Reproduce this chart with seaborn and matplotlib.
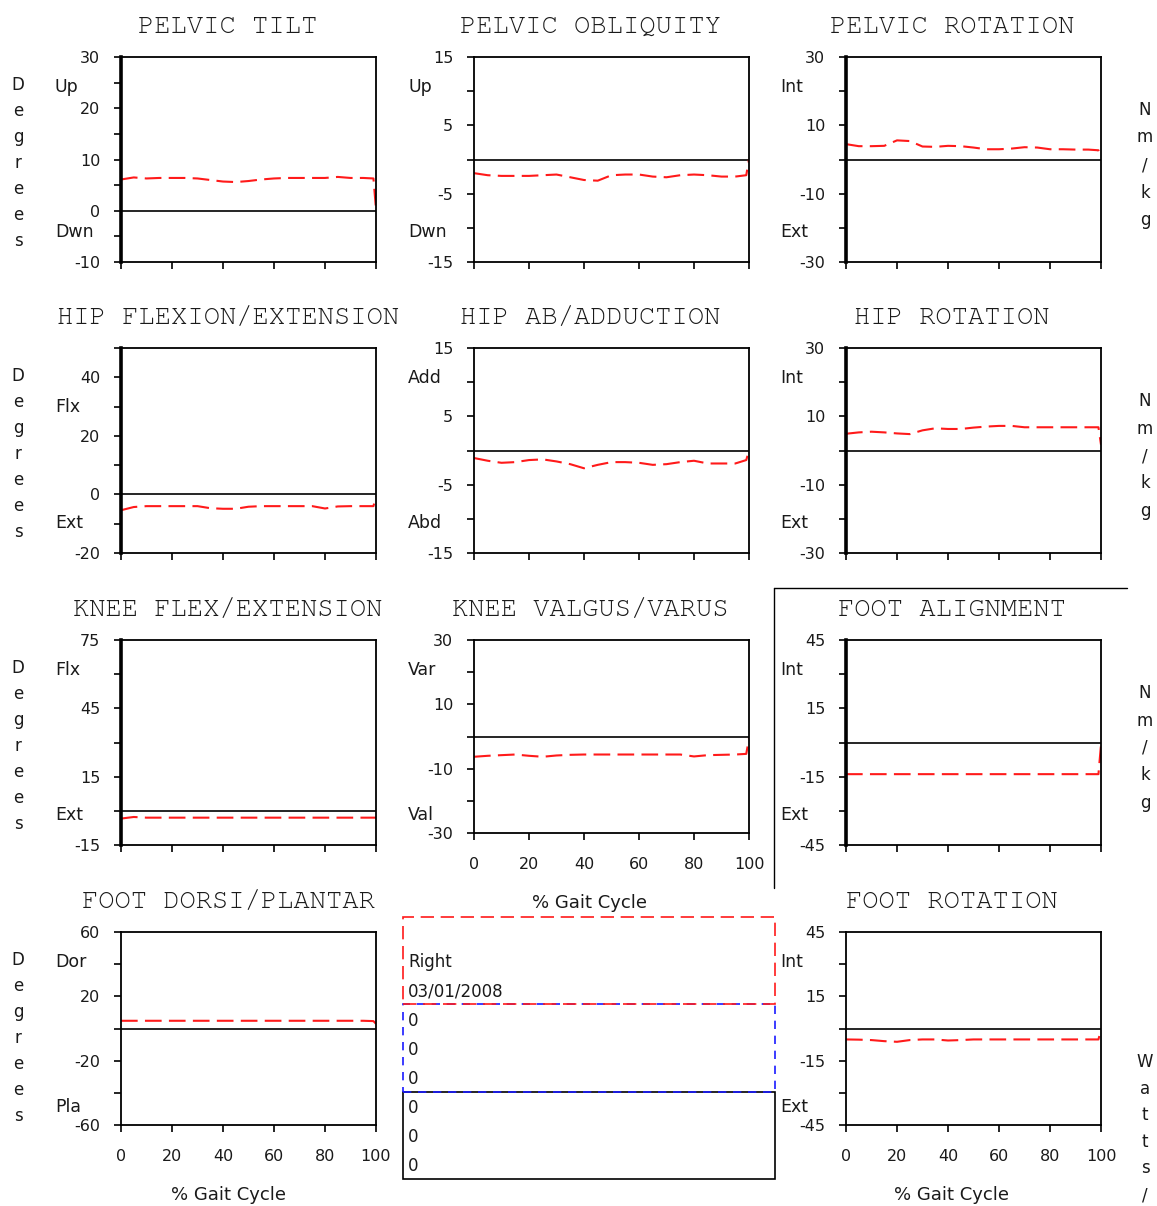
import matplotlib
matplotlib.use("Agg")
import matplotlib.pyplot as plt
from matplotlib import font_manager
import numpy as np
import pandas as pd
import seaborn as sns
from matplotlib.lines import Line2D
from matplotlib.patches import Rectangle

sns.set_theme(style="white")
plt.rcParams['font.family'] = ['DejaVu Sans']

# ---------------------------------------------------------------- data
gait_pct = [0, 5, 10, 15, 20, 25, 30, 35, 40, 45, 50,
            55, 60, 65, 70, 75, 80, 85, 90, 95, 99, 100]

pelvic_tilt = [6.1, 6.5, 6.3, 6.4, 6.4, 6.4, 6.3, 6.0, 5.7, 5.6, 5.8,
               6.1, 6.3, 6.4, 6.4, 6.4, 6.4, 6.6, 6.4, 6.4, 6.3, 0.3]
pelvic_obliquity = [-2.0, -2.3, -2.4, -2.4, -2.4, -2.3, -2.2, -2.6, -3.0, -3.1, -2.3,
                    -2.2, -2.2, -2.5, -2.6, -2.3, -2.2, -2.3, -2.5, -2.5, -2.3, 0.0]
pelvic_rotation = [4.5, 3.9, 3.9, 4.0, 5.6, 5.4, 3.8, 3.7, 4.0, 3.9, 3.5,
                   3.0, 3.0, 3.2, 3.6, 3.5, 3.0, 3.0, 2.9, 2.9, 2.7, 1.0]
hip_flexion = [-5.4, -4.3, -4.0, -4.0, -4.0, -4.0, -4.0, -4.7, -4.9, -4.9, -4.2,
               -4.0, -4.0, -4.0, -4.0, -4.0, -4.8, -4.1, -4.0, -4.0, -4.0, -0.6]
hip_abduction = [-1.1, -1.5, -1.8, -1.7, -1.4, -1.3, -1.6, -2.0, -2.6, -2.1, -1.7,
                 -1.7, -1.8, -2.1, -2.0, -1.7, -1.5, -1.9, -1.9, -1.9, -1.4, 0.0]
hip_rotation = [4.9, 5.3, 5.5, 5.3, 5.0, 4.8, 5.9, 6.5, 6.3, 6.3, 6.7,
                7.0, 7.2, 7.2, 6.8, 6.8, 6.8, 6.8, 6.8, 6.8, 6.8, 1.7]
knee_flexion = [-3.4, -2.7, -3.0, -3.0, -3.0, -3.0, -3.0, -3.0, -3.0, -3.0, -3.0,
                -3.0, -3.0, -3.0, -3.0, -3.0, -3.0, -3.0, -3.0, -3.0, -3.0, -3.0]
knee_valgus = [-6.3, -6.0, -5.8, -5.6, -6.0, -6.3, -5.9, -5.7, -5.6, -5.6, -5.6,
               -5.6, -5.6, -5.6, -5.6, -5.6, -6.2, -5.8, -5.7, -5.6, -5.4, -0.6]
foot_alignment = [-13.9, -13.9, -13.9, -13.9, -13.9, -13.9, -13.9, -13.9, -13.9, -13.9, -13.9,
                  -13.9, -13.9, -13.9, -13.9, -13.9, -13.9, -13.9, -13.9, -13.9, -13.9, -1.0]
foot_dorsi = [4.8, 4.8, 4.8, 4.8, 4.8, 4.8, 4.8, 4.8, 4.8, 4.8, 4.8,
              4.8, 4.8, 4.8, 4.8, 4.8, 4.8, 4.8, 4.8, 4.8, 4.6, 2.9]
foot_rotation = [-5.1, -5.2, -5.4, -5.9, -6.2, -5.4, -5.1, -5.1, -5.6, -5.4, -5.1,
                 -5.1, -5.1, -5.1, -5.1, -5.1, -5.1, -5.1, -5.1, -5.1, -5.1, -0.5]

x_ticks = [0, 20, 40, 60, 80, 100]
x_label = "% Gait Cycle"
legend_side = "Right"
legend_date = "03/01/2008"
legend_values = ["0", "0", "0", "0", "0", "0"]

# ---------------------------------------------------------------- fonts
installed = {f.name for f in font_manager.fontManager.ttflist}
title_family = next((name for name in ["Courier New", "Nimbus Mono PS", "Nimbus Mono L",
                                        "FreeMono", "Courier", "Liberation Mono",
                                        "DejaVu Sans Mono"] if name in installed),
                    "monospace")

# ---------------------------------------------------------------- layout (pixels)
W, H = 1157, 1206
COLS = [(121, 376), (474, 749), (846, 1101)]
LABEL_X = [55, 408, 780]
TITLE_X = [228, 590, 952]


def fx(x):
    return x / W


def fy(y):
    return 1 - y / H


panels = [
    dict(title="PELVIC TILT", y=pelvic_tilt, col=0, tb=(57, 262), ylim=(-10, 30), step=5,
         labels=[30, 20, 10, 0, -10], words=("Up", "Dwn"), wy=(87, 232), xl=False, thick=True),
    dict(title="PELVIC OBLIQUITY", y=pelvic_obliquity, col=1, tb=(57, 262), ylim=(-15, 15), step=5,
         labels=[15, 5, -5, -15], words=("Up", "Dwn"), wy=(87, 232), xl=False, thick=False),
    dict(title="PELVIC ROTATION", y=pelvic_rotation, col=2, tb=(57, 262), ylim=(-30, 30), step=10,
         labels=[30, 10, -10, -30], words=("Int", "Ext"), wy=(87, 232), xl=False, thick=True),
    dict(title="HIP FLEXION/EXTENSION", y=hip_flexion, col=0, tb=(348, 553), ylim=(-20, 50), step=10,
         labels=[40, 20, 0, -20], words=("Flx", "Ext"), wy=(407, 523), xl=False, thick=True),
    dict(title="HIP AB/ADDUCTION", y=hip_abduction, col=1, tb=(348, 553), ylim=(-15, 15), step=5,
         labels=[15, 5, -5, -15], words=("Add", "Abd"), wy=(378, 523), xl=False, thick=False),
    dict(title="HIP ROTATION", y=hip_rotation, col=2, tb=(348, 553), ylim=(-30, 30), step=10,
         labels=[30, 10, -10, -30], words=("Int", "Ext"), wy=(378, 523), xl=False, thick=True),
    dict(title="KNEE FLEX/EXTENSION", y=knee_flexion, col=0, tb=(640, 845), ylim=(-15, 75), step=15,
         labels=[75, 45, 15, -15], words=("Flx", "Ext"), wy=(670, 815), xl=False, thick=True),
    dict(title="KNEE VALGUS/VARUS", y=knee_valgus, col=1, tb=(640, 833), ylim=(-30, 30), step=10,
         labels=[30, 10, -10, -30], words=("Var", "Val"), wy=(670, 815), xl=True, thick=False),
    dict(title="FOOT ALIGNMENT", y=foot_alignment, col=2, tb=(640, 845), ylim=(-45, 45), step=15,
         labels=[45, 15, -15, -45], words=("Int", "Ext"), wy=(670, 815), xl=False, thick=True),
    dict(title="FOOT DORSI/PLANTAR", y=foot_dorsi, col=0, tb=(932, 1125), ylim=(-60, 60), step=20,
         labels=[60, 20, -20, -60], words=("Dor", "Pla"), wy=(962, 1107), xl=True, thick=False),
    dict(title="FOOT ROTATION", y=foot_rotation, col=2, tb=(932, 1125), ylim=(-45, 45), step=15,
         labels=[45, 15, -15, -45], words=("Int", "Ext"), wy=(962, 1107), xl=True, thick=False),
]

fig = plt.figure(figsize=(W / 100, H / 100), dpi=100)
fig.patch.set_facecolor("white")

TEXT = "#1a1a1a"
TITLE_FONT = dict(family=title_family, size=19.5, color=TEXT)

for p in panels:
    left, right = COLS[p["col"]]
    top, bottom = p["tb"]
    ax = fig.add_axes([fx(left), fy(bottom), (right - left) / W, (bottom - top) / H])
    ax.set_facecolor("white")

    df = pd.DataFrame({"pct": gait_pct, "angle": p["y"]})
    sns.lineplot(data=df, x="pct", y="angle", ax=ax, color="#ff1a1a", linewidth=1.5,
                 linestyle=(0, (8, 3.5)), errorbar=None, sort=False, legend=False)
    ax.axhline(0, color="black", linewidth=1.2, zorder=1)

    lo, hi = p["ylim"]
    ax.set_xlim(0, 100)
    ax.set_ylim(lo, hi)
    yt = list(range(lo, hi + 1, p["step"]))
    ax.set_yticks(yt)
    ax.set_yticklabels([str(v) if v in p["labels"] else "" for v in yt])
    ax.set_xticks(x_ticks)
    ax.set_xticklabels([str(v) for v in x_ticks] if p["xl"] else [""] * len(x_ticks))
    ax.set_xlabel("")
    ax.set_ylabel("")
    ax.tick_params(axis="both", direction="out", length=5, width=1.2, color="black",
                   labelsize=11.5, labelcolor=TEXT, left=True, bottom=True)
    ax.tick_params(axis="y", pad=10)
    ax.tick_params(axis="x", pad=12)
    for side, sp in ax.spines.items():
        sp.set_visible(True)
        sp.set_color("black")
        sp.set_linewidth(1.3)
    if p["thick"]:
        ax.spines["left"].set_linewidth(2.6)

    fig.text(fx(TITLE_X[p["col"]]), fy(top - 30), p["title"], ha="center", va="center",
             **TITLE_FONT)
    up_word, down_word = p["words"]
    fig.text(fx(LABEL_X[p["col"]]), fy(p["wy"][0]), up_word, ha="left", va="center",
             fontsize=12.5, color=TEXT)
    fig.text(fx(LABEL_X[p["col"]]), fy(p["wy"][1]), down_word, ha="left", va="center",
             fontsize=12.5, color=TEXT)
    if p["xl"]:
        fig.text(fx(TITLE_X[p["col"]]), fy(bottom + 70), x_label, ha="center", va="center",
                 fontsize=13, color=TEXT)

# vertical unit captions down the sides
for top in (57, 348, 640, 932):
    for i, ch in enumerate("Degrees"):
        fig.text(fx(18), fy(top + 28 + 26 * i), ch, ha="center", va="center",
                 fontsize=12, color=TEXT)
for top in (57, 348, 640):
    for i, ch in enumerate("Nm/kg"):
        fig.text(fx(1145), fy(top + 53 + 27.5 * i), ch, ha="center", va="center",
                 fontsize=12, color=TEXT)
for i, ch in enumerate("Watts/"):
    fig.text(fx(1145), fy(1062 + 26.6 * i), ch, ha="center", va="center",
             fontsize=12, color=TEXT)

# frame around the foot alignment panel
fig.add_artist(Line2D([fx(774), fx(774)], [fy(588), fy(888)], color="black",
                      linewidth=1.0, transform=fig.transFigure))
fig.add_artist(Line2D([fx(774), fx(1127)], [fy(588), fy(588)], color="black",
                      linewidth=1.0, transform=fig.transFigure))


# key boxes in the empty bottom-middle cell
def box(y0, y1, color, ls):
    fig.add_artist(Rectangle((fx(403), fy(y1)), (775 - 403) / W, (y1 - y0) / H,
                             fill=False, edgecolor=color, linewidth=1.2, linestyle=ls,
                             transform=fig.transFigure))


box(1092, 1179, "black", "-")
box(1004, 1092, "#1a1aff", (0, (5, 4)))
box(917, 1004, "#ff1a1a", (0, (8, 4)))

fig.text(fx(408), fy(962), legend_side, ha="left", va="center", fontsize=12, color=TEXT)
fig.text(fx(408), fy(991), legend_date, ha="left", va="center", fontsize=12, color=TEXT)
for i, v in enumerate(legend_values):
    fig.text(fx(408), fy(1021 + 29 * i), v, ha="left", va="center", fontsize=12, color=TEXT)

fig.savefig("out.png", dpi=100, facecolor="white")
